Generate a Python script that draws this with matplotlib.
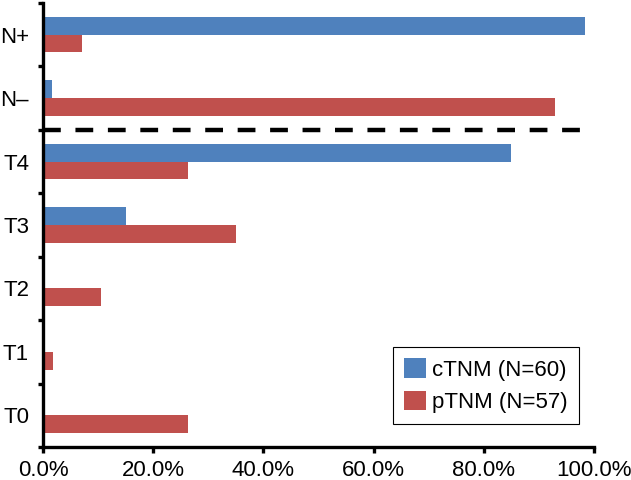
import matplotlib
matplotlib.use("Agg")
import matplotlib.pyplot as plt
import numpy as np
from matplotlib.ticker import FuncFormatter, FixedLocator

categories = ["N+", "N\u2013", "T4", "T3", "T2", "T1", "T0"]
ctnm = [98.3, 1.7, 85.0, 15.0, 0.0, 0.0, 0.0]
ptnm = [7.0, 93.0, 26.3, 35.1, 10.5, 1.8, 26.3]
series_labels = ["cTNM (N=60)", "pTNM (N=57)"]

plt.rcParams['font.family'] = ['Liberation Sans', 'DejaVu Sans']

fig = plt.figure(figsize=(6.31, 4.8), dpi=100)
ax = fig.add_axes([43 / 631, 33 / 480, 551 / 631, 444 / 480])

y = np.arange(len(categories))
h = 0.28
ax.barh(y - h / 2, ctnm, height=h, color="#4F81BD", label=series_labels[0])
ax.barh(y + h / 2, ptnm, height=h, color="#C0504D", label=series_labels[1])

# separator between N and T stages
ax.axhline(1.5, xmin=0, xmax=0.987, color="black", lw=3.2,
           linestyle=(0, (4, 3.3)), dash_capstyle="butt", zorder=3)

ax.set_xlim(0, 100)
ax.set_ylim(len(categories) - 0.5, -0.5)

ax.set_yticks(y)
ax.set_yticklabels(categories)
ax.yaxis.set_minor_locator(FixedLocator(np.arange(-0.5, len(categories), 1)))
ax.tick_params(axis="y", which="major", length=0, pad=10, labelsize=16)
ax.tick_params(axis="y", which="minor", length=3.6, width=2.4)

ax.set_xticks(np.arange(0, 101, 20))
ax.xaxis.set_major_formatter(FuncFormatter(lambda v, p: "{:.1f}%".format(v)))
ax.tick_params(axis="x", length=4, width=2.4, pad=5, labelsize=16)

for s in ["top", "right"]:
    ax.spines[s].set_visible(False)
for s in ["left", "bottom"]:
    ax.spines[s].set_linewidth(2.4)

leg = ax.legend(loc="lower right", bbox_to_anchor=(579 / 631, 56 / 480),
                bbox_transform=fig.transFigure, borderaxespad=0,
                fontsize=16, handlelength=0.95, handleheight=0.95,
                handletextpad=0.3, labelspacing=0.45, borderpad=0.5,
                fancybox=False, framealpha=1, edgecolor="black")
leg.get_frame().set_linewidth(0.8)

fig.savefig("out.png", dpi=100)
